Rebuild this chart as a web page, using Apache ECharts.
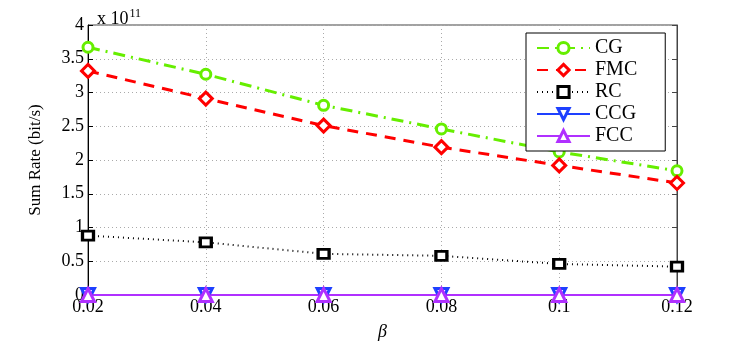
<!DOCTYPE html>
<html><head><meta charset="utf-8">
<script src="https://cdn.jsdelivr.net/npm/echarts@6/dist/echarts.min.js"></script>
<style>html,body{margin:0;padding:0;background:#fff}#c{width:747px;height:346px}</style>
</head><body><div id="c"></div>
<script>
const betaValues = [0.02, 0.04, 0.06, 0.08, 0.1, 0.12];
const xTickLabels = ['0.02', '0.04', '0.06', '0.08', '0.1', '0.12'];
const yTickLabels = ['0', '0.5', '1', '1.5', '2', '2.5', '3', '3.5', '4'];
const seriesNames = ['CG', 'FMC', 'RC', 'CCG', 'FCC'];
// values in units of 1e11 bit/s
const cgValues  = [3.67, 3.27, 2.81, 2.46, 2.12, 1.84];
const fmcValues = [3.32, 2.91, 2.51, 2.19, 1.92, 1.66];
const rcValues  = [0.88, 0.78, 0.61, 0.58, 0.46, 0.42];
const ccgValues = [0, 0, 0, 0, 0, 0];
const fccValues = [0, 0, 0, 0, 0, 0];

const font = 'Liberation Serif';
const pair = v => betaValues.map((b, i) => [b, v[i]]);
const fmtX = v => { const i = betaValues.findIndex(b => Math.abs(b - v) < 1e-9); return i >= 0 ? xTickLabels[i] : ''; };
const fmtY = v => { const i = Math.round(v / 0.5); return yTickLabels[i] !== undefined ? yTickLabels[i] : ''; };

const chart = echarts.init(document.getElementById('c'), null, {renderer: 'canvas'});
const axisBase = {
  type: 'value', min: 0.02, max: 0.12, interval: 0.02
};
function mk(name, data, col, symbol, size, lineType, lineWidth, extra) {
  return Object.assign({
    name, type: 'line', data: pair(data), symbol, symbolSize: size,
    lineStyle: {color: col, width: lineWidth, type: lineType},
    itemStyle: {color: '#fff', borderColor: col, borderWidth: 3}
  }, extra || {});
}
chart.setOption({
  animation: false,
  backgroundColor: '#fff',
  grid: {left: 88, right: 70, top: 25, bottom: 41, show: true, borderColor: '#444', borderWidth: 1},
  graphic: [{
    type: 'text', left: 97, top: 4,
    style: {
      text: '{a|x 10}{b|11}',
      rich: {
        a: {fontFamily: font, fontSize: 18, fill: '#000', verticalAlign: 'bottom', lineHeight: 20, padding: [6, 0, 0, 0]},
        b: {fontFamily: font, fontSize: 12, fill: '#000', verticalAlign: 'top', lineHeight: 20, padding: [0, 0, 6, 1]}
      }
    }
  }],
  legend: {
    orient: 'vertical', left: 526, top: 33,
    data: seriesNames,
    itemWidth: 53, itemHeight: 14, itemGap: 2,
    padding: [5, 28, 5, 10],
    borderColor: '#000', borderWidth: 1, backgroundColor: '#fff',
    itemStyle: {borderWidth: 3},
    textStyle: {fontFamily: font, fontSize: 20, color: '#000'}
  },
  xAxis: [{
    ...axisBase, position: 'bottom',
    name: 'β', nameLocation: 'middle', nameGap: 28,
    nameTextStyle: {fontFamily: font, fontSize: 18, fontStyle: 'italic', color: '#000'},
    axisLine: {show: true, onZero: false, lineStyle: {color: '#000', width: 1}},
    axisTick: {show: true, inside: true, length: 5, lineStyle: {color: '#000'}},
    axisLabel: {fontFamily: font, fontSize: 18, color: '#000', margin: 3, formatter: fmtX},
    splitLine: {show: true, lineStyle: {color: '#aaa', type: [1, 3], width: 1}}
  }, {
    ...axisBase, position: 'top',
    axisLine: {show: true, lineStyle: {color: '#666'}},
    axisTick: {show: true, inside: true, length: 5, lineStyle: {color: '#666'}},
    axisLabel: {show: false}, splitLine: {show: false}
  }],
  yAxis: [{
    type: 'value', min: 0, max: 4, interval: 0.5, position: 'left',
    name: 'Sum Rate (bit/s)', nameLocation: 'middle', nameGap: 44,
    nameTextStyle: {fontFamily: font, fontSize: 17, color: '#000'},
    axisLine: {show: true, lineStyle: {color: '#000', width: 1}},
    axisTick: {show: true, inside: true, length: 5, lineStyle: {color: '#000'}},
    axisLabel: {fontFamily: font, fontSize: 18, color: '#000', margin: 4, formatter: fmtY},
    splitLine: {show: true, lineStyle: {color: '#aaa', type: [1, 3], width: 1}}
  }, {
    type: 'value', min: 0, max: 4, interval: 0.5, position: 'right',
    axisLine: {show: true, lineStyle: {color: '#444'}},
    axisTick: {show: true, inside: true, length: 5, lineStyle: {color: '#444'}},
    axisLabel: {show: false}, splitLine: {show: false}
  }],
  series: [
    mk('CG', cgValues, '#66EE00', 'circle', 10, [12, 6, 2, 6], 3),
    mk('FMC', fmcValues, '#FF0000', 'diamond', 13, [11, 8], 3),
    mk('RC', rcValues, '#000000', 'rect', [11, 9], [1, 4], 2),
    mk('CCG', ccgValues, '#1E40FF', 'triangle', 13, 'solid', 2, {symbolRotate: 180}),
    mk('FCC', fccValues, '#B030FF', 'triangle', 13, 'solid', 2)
  ]
});
</script></body></html>
